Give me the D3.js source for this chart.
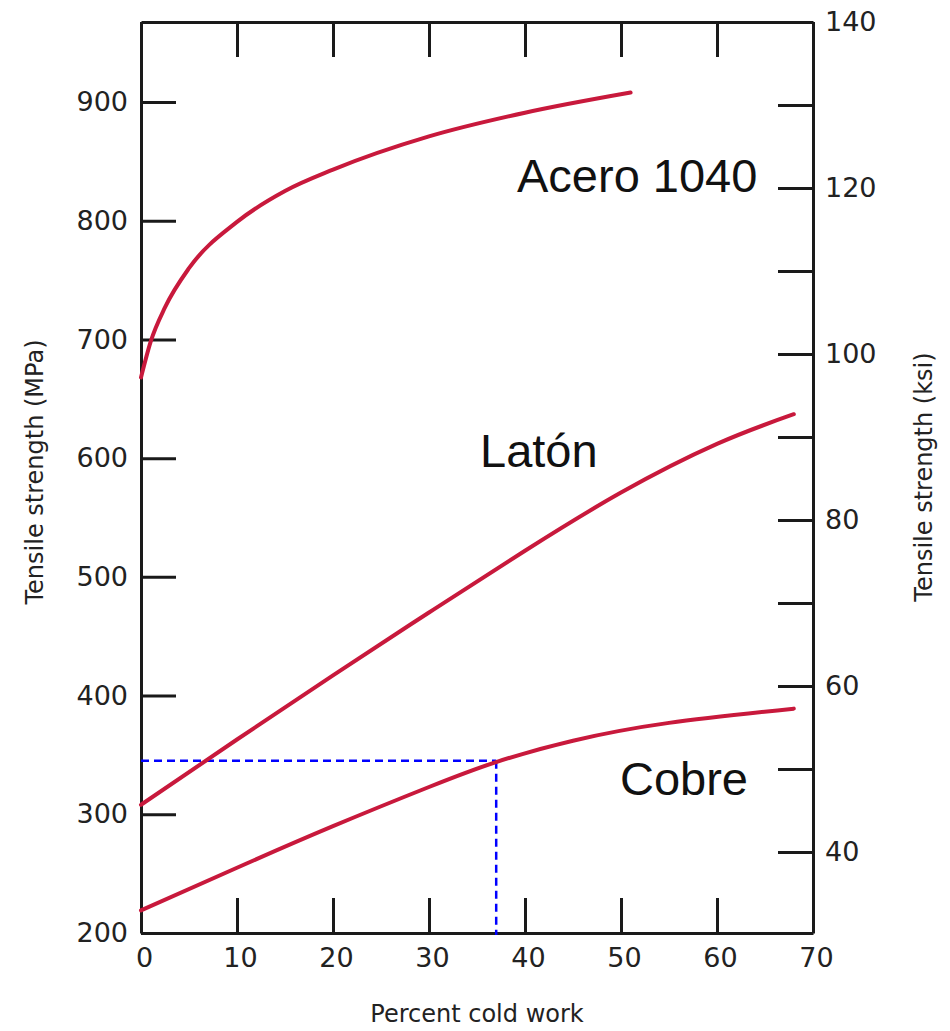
<!DOCTYPE html>
<html>
<head>
<meta charset="utf-8">
<script src="https://cdn.jsdelivr.net/npm/d3@7"></script>
<style>
  body { margin: 0; background: #fff; }
  .tick text { font-family: "DejaVu Sans", sans-serif; font-size: 27px; fill: #222; }
  .axis-title { font-family: "DejaVu Sans", sans-serif; font-size: 24px; fill: #222; }
  .curve-label { font-family: "Liberation Sans", Arial, sans-serif; font-size: 47px; fill: #111; }
</style>
</head>
<body>
<script>
// percent cold work vs tensile strength (MPa)
var aceroX = [0, 1, 2.5, 5, 10, 15, 20, 30, 40, 51];
var aceroY = [668, 698, 727, 760, 799, 825, 843, 871, 891, 908];

var latonX = [0, 10, 20, 30, 40, 50, 60, 68];
var latonY = [308, 363, 417, 470, 522, 571, 612, 637];

var cobreX = [0, 10, 20, 30, 37, 45, 55, 68];
var cobreY = [219, 255, 290, 323, 344, 362, 377, 389];

var xTicks = [0, 10, 20, 30, 40, 50, 60, 70];
var mpaTicks = [200, 300, 400, 500, 600, 700, 800, 900];
var ksiTicks = [40, 50, 60, 70, 80, 90, 100, 110, 120, 130, 140];

var markX = 37, markY = 345;   // blue dashed reading

var width = 950, height = 1031;
var margin = {top: 22, right: 137, bottom: 98, left: 141};

var svg = d3.select("body").append("svg")
    .attr("width", width)
    .attr("height", height);

var x = d3.scaleLinear()
    .domain([0, 70])
    .range([margin.left, width - margin.right]);

var y = d3.scaleLinear()
    .domain([200, 967.4])
    .range([height - margin.bottom, margin.top]);

var yKsi = d3.scaleLinear()
    .domain([30.24, 140])
    .range([height - margin.bottom, margin.top]);

var tickLen = 35;

// axes
svg.append("g")
    .attr("transform", `translate(0,${height - margin.bottom})`)
    .call(d3.axisBottom(x).tickValues(xTicks).tickSize(-tickLen).tickSizeOuter(0).tickPadding(15))
    .call(g => g.selectAll(".tick text").attr("dx", 3));

svg.append("g")
    .attr("transform", `translate(0,${margin.top})`)
    .call(d3.axisTop(x).tickValues(xTicks).tickSize(-tickLen).tickSizeOuter(0).tickFormat(""));

svg.append("g")
    .attr("transform", `translate(${margin.left},0)`)
    .call(d3.axisLeft(y).tickValues(mpaTicks).tickSize(-tickLen).tickSizeOuter(0).tickPadding(13));

svg.append("g")
    .attr("transform", `translate(${width - margin.right},0)`)
    .call(d3.axisRight(yKsi).tickValues(ksiTicks).tickSize(-tickLen).tickSizeOuter(0).tickPadding(12)
      .tickFormat(d => d % 20 == 0 ? d : ""));

svg.selectAll(".domain, .tick line")
    .attr("stroke", "#1a1a1a")
    .attr("stroke-width", 3);

// blue dashed reading lines
var dash = svg.append("g")
    .attr("stroke", "#0000ff")
    .attr("stroke-width", 2.5)
    .attr("stroke-dasharray", "8,5")
    .attr("fill", "none");

dash.append("line")
    .attr("x1", x(0)).attr("x2", x(markX))
    .attr("y1", y(markY)).attr("y2", y(markY));

dash.append("line")
    .attr("x1", x(markX)).attr("x2", x(markX))
    .attr("y1", y(markY)).attr("y2", y(200) + 2);

// curves
var lineMono = d3.line()
    .x(d => x(d[0]))
    .y(d => y(d[1]))
    .curve(d3.curveMonotoneX);

var lineSmooth = d3.line()
    .x(d => x(d[0]))
    .y(d => y(d[1]))
    .curve(d3.curveNatural);

[[aceroX, aceroY, lineMono], [latonX, latonY, lineSmooth], [cobreX, cobreY, lineSmooth]].forEach(function(s) {
  svg.append("path")
      .datum(d3.zip(s[0], s[1]))
      .attr("fill", "none")
      .attr("stroke", "#c8193c")
      .attr("stroke-width", 4)
      .attr("stroke-linecap", "round")
      .attr("d", s[2]);
});

// curve labels
svg.append("text").attr("class", "curve-label")
    .attr("x", 517).attr("y", 192).text("Acero 1040");
svg.append("text").attr("class", "curve-label")
    .attr("x", 480).attr("y", 467).text("Latón");
svg.append("text").attr("class", "curve-label")
    .attr("x", 620).attr("y", 795).text("Cobre");

// axis titles
svg.append("text").attr("class", "axis-title")
    .attr("text-anchor", "middle")
    .attr("transform", "translate(43,472) rotate(-90)")
    .text("Tensile strength (MPa)");

svg.append("text").attr("class", "axis-title")
    .attr("text-anchor", "middle")
    .attr("transform", "translate(932,477) rotate(-90)")
    .text("Tensile strength (ksi)");

svg.append("text").attr("class", "axis-title")
    .attr("text-anchor", "middle")
    .attr("x", 477).attr("y", 1022)
    .text("Percent cold work");
</script>
</body>
</html>
